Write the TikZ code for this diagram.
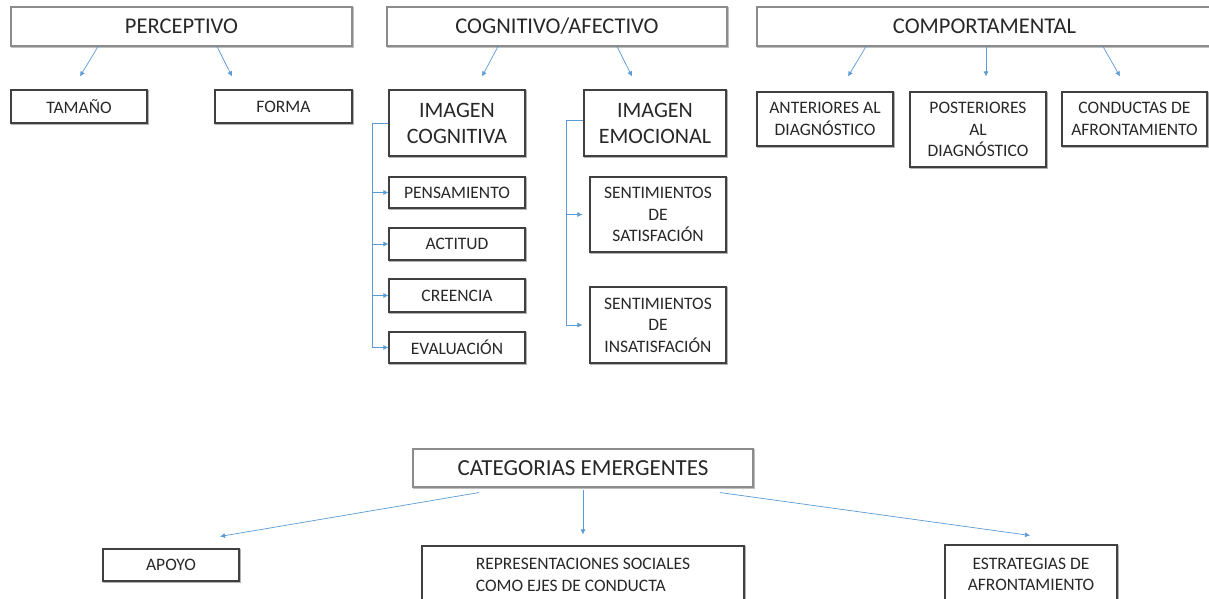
\documentclass[tikz,border=0pt]{standalone}
\usepackage{fontspec}
\setmainfont{Carlito}
\usetikzlibrary{arrows.meta,calc}
\definecolor{arrblue}{RGB}{91,155,213}
\definecolor{txt}{RGB}{40,40,40}
\tikzset{
  topbox/.style={draw=black!45,line width=1.1pt,fill=white,inner sep=0pt,text=txt,
    font=\fontsize{22.5}{26}\selectfont,align=center,
    preaction={draw=black!25,line width=1.1pt,transform canvas={xshift=1pt,yshift=-1pt}}},
  subbox/.style={draw=black!75,line width=1.1pt,fill=white,inner sep=0pt,text=txt,
    font=\fontsize{17.5}{21.5}\selectfont,align=center,
    preaction={draw=black!30,line width=1.1pt,transform canvas={xshift=1pt,yshift=-1pt}}},
  bigbox/.style={subbox,font=\fontsize{22}{26}\selectfont},
  arr/.style={draw=arrblue,line width=0.7pt,-{Latex[length=5pt,width=5pt]}},
  brk/.style={draw=arrblue,line width=0.7pt}
}
\begin{document}
\begin{tikzpicture}[x=1pt,y=-1pt]
\clip (0,0) rectangle (1209,599);
\fill[white] (0,0) rectangle (1209,599);

% PERCEPTIVO
\node[topbox,minimum width=341pt,minimum height=39pt] (per) at (181.5,26.5) {PERCEPTIVO};
\node[subbox,minimum width=136pt,minimum height=33pt] (tam) at (79,106.5) {TAMAÑO};
\node[subbox,minimum width=137pt,minimum height=33pt] (for) at (283.5,106.5) {FORMA};
\draw[arr] ([xshift=-83.5pt]per.south) -- ([xshift=1pt,yshift=13pt]tam.north);
\draw[arr] ([xshift=35.5pt]per.south) -- ([xshift=-51.5pt,yshift=13pt]for.north);

% COGNITIVO/AFECTIVO
\node[topbox,minimum width=340pt,minimum height=39pt] (cog) at (557,26.5) {COGNITIVO/AFECTIVO};
\node[bigbox,minimum width=136pt,minimum height=66pt] (ic) at (457,123) {IMAGEN\\COGNITIVA};
\node[bigbox,minimum width=142pt,minimum height=66pt] (ie) at (655,123) {IMAGEN\\EMOCIONAL};
\draw[arr] ([xshift=-59pt]cog.south) -- ([xshift=25pt,yshift=13pt]ic.north);
\draw[arr] ([xshift=60pt]cog.south) -- ([xshift=-23pt,yshift=13pt]ie.north);

\node[subbox,minimum width=136pt,minimum height=31pt] (pen) at (457,192.5) {PENSAMIENTO};
\node[subbox,minimum width=136pt,minimum height=32pt] (act) at (457,244) {ACTITUD};
\node[subbox,minimum width=136pt,minimum height=33pt] (cre) at (457,295.5) {CREENCIA};
\node[subbox,minimum width=136pt,minimum height=31pt] (eva) at (457,347.5) {EVALUACIÓN};
\coordinate (cbr) at ([xshift=-16pt]ic.west);
\draw[brk] (ic.west) -- (cbr) -- (cbr |- eva.west);
\draw[arr] (cbr |- pen.west) -- (pen.west);
\draw[arr] (cbr |- act.west) -- (act.west);
\draw[arr] (cbr |- cre.west) -- (cre.west);
\draw[arr] (cbr |- eva.west) -- (eva.west);

\node[subbox,minimum width=136pt,minimum height=75pt] (sat) at (658,214.5) {SENTIMIENTOS\\DE\\SATISFACIÓN};
\node[subbox,minimum width=136pt,minimum height=76pt] (ins) at (658,325) {SENTIMIENTOS\\DE\\INSATISFACIÓN};
\coordinate (ebr) at ([xshift=-17pt,yshift=3pt]ie.west);
\draw[brk] ([yshift=3pt]ie.west) -- (ebr) -- (ebr |- ins.west);
\draw[arr,shorten >=7pt] (ebr |- sat.west) -- (sat.west);
\draw[arr,shorten >=7pt] (ebr |- ins.west) -- (ins.west);

% COMPORTAMENTAL
\node[topbox,minimum width=455pt,minimum height=39pt] (com) at (984.5,26.5) {COMPORTAMENTAL};
\node[subbox,minimum width=136pt,minimum height=54pt] (ant) at (825,119) {ANTERIORES AL\\DIAGNÓSTICO};
\node[subbox,minimum width=136pt,minimum height=75pt] (pos) at (978,129.5) {POSTERIORES\\AL\\DIAGNÓSTICO};
\node[subbox,minimum width=145pt,minimum height=54pt] (con) at (1134.5,119) {CONDUCTAS DE\\AFRONTAMIENTO};
\draw[arr] ([xshift=-118.5pt]com.south) -- ([xshift=23pt,yshift=15pt]ant.north);
\draw[arr] ([xshift=1.5pt]com.south) -- ([xshift=8pt,yshift=15pt]pos.north);
\draw[arr] ([xshift=118.5pt]com.south) -- ([xshift=-14.5pt,yshift=15pt]con.north);

% CATEGORIAS EMERGENTES
\node[topbox,font=\fontsize{23}{27}\selectfont,minimum width=340pt,minimum height=38pt] (cat) at (583,468) {CATEGORIAS EMERGENTES};
\node[subbox,minimum width=136pt,minimum height=32pt] (apo) at (171,565) {APOYO};
\node[subbox,minimum width=322pt,minimum height=58pt,align=left] (rep) at (583,575) {REPRESENTACIONES SOCIALES\\COMO EJES DE CONDUCTA};
\node[subbox,minimum width=172pt,minimum height=59pt] (est) at (1031,574.5) {ESTRATEGIAS DE\\AFRONTAMIENTO};
\draw[arr] ([xshift=-104pt,yshift=-5pt]cat.south) -- ([xshift=49pt,yshift=12pt]apo.north);
\draw[arr] ([yshift=-2pt]cat.south) -- ([yshift=11pt]rep.north);
\draw[arr] ([xshift=137pt,yshift=-5pt]cat.south) -- ([xshift=-1pt,yshift=9pt]est.north);
\end{tikzpicture}
\end{document}
